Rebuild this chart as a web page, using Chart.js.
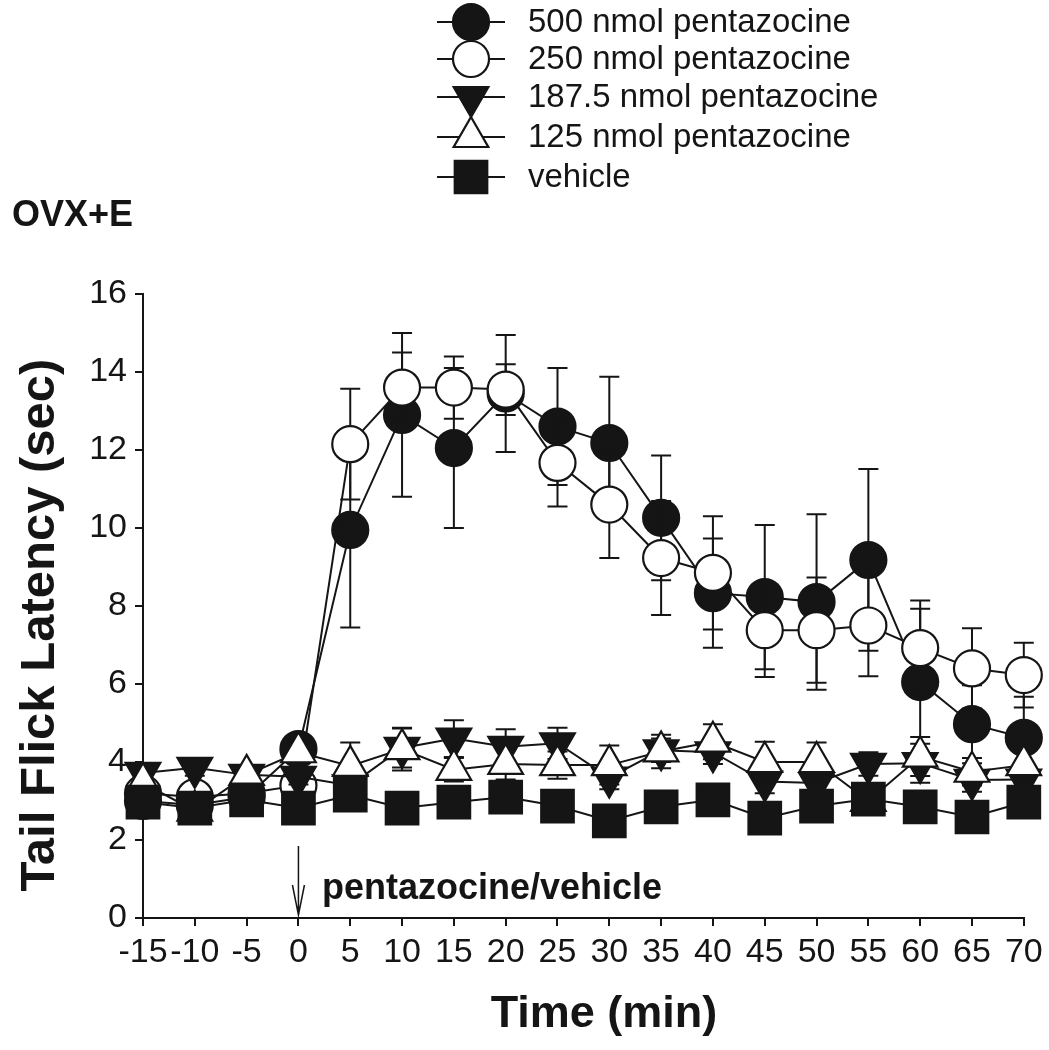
<!DOCTYPE html>
<html>
<head>
<meta charset="utf-8">
<script src="https://cdn.jsdelivr.net/npm/chart.js@4.4.1/dist/chart.umd.min.js"></script>
<style>
  html, body { margin: 0; padding: 0; background: #fff; }
  #wrap { width: 1049px; height: 1050px; position: relative; }
</style>
</head>
<body>
<div id="wrap"><canvas id="c" width="1049" height="1050"></canvas></div>
<script>
// ---- data ----
const times = [-15, -10, -5, 0, 5, 10, 15, 20, 25, 30, 35, 40, 45, 50, 55, 60, 65, 70];

const seriesLabels = ['500 nmol pentazocine', '250 nmol pentazocine', '187.5 nmol pentazocine', '125 nmol pentazocine', 'vehicle'];

const nmol500 = [3.0, 2.9, 3.1, 4.33, 9.95, 12.9, 12.05, 13.45, 12.6, 12.18, 10.26, 8.33, 8.23, 8.1, 9.18, 6.05, 4.97, 4.62];
const nmol500Sem = [0.2, 0.2, 0.2, 0.3, 2.5, 2.1, 2.05, 1.5, 1.5, 1.7, 1.6, 1.4, 1.85, 2.25, 2.33, 1.88, 1.0, 1.05];

const nmol250 = [3.2, 3.1, 3.2, 3.4, 12.15, 13.6, 13.6, 13.55, 11.67, 10.6, 9.23, 8.85, 7.38, 7.38, 7.5, 6.92, 6.4, 6.23];
const nmol250Sem = [0.2, 0.2, 0.2, 0.3, 1.42, 0.9, 0.8, 0.65, 1.12, 1.37, 1.46, 1.45, 1.2, 1.35, 1.3, 1.22, 1.03, 0.83];

const nmol187 = [3.72, 3.85, 3.67, 3.62, 3.4, 4.36, 4.6, 4.39, 4.48, 3.6, 4.3, 4.25, 3.5, 3.46, 3.95, 3.97, 3.54, 3.55];
const nmol187Sem = [0.2, 0.2, 0.2, 0.2, 0.3, 0.5, 0.47, 0.45, 0.4, 0.3, 0.3, 0.3, 0.3, 0.3, 0.3, 0.5, 0.3, 0.3];

const nmol125 = [3.46, 2.75, 3.67, 4.25, 3.9, 4.33, 3.8, 3.95, 3.92, 3.92, 4.27, 4.52, 4.0, 4.0, 3.0, 4.14, 3.75, 3.92];
const nmol125Sem = [0.2, 0.2, 0.2, 0.3, 0.6, 0.55, 0.3, 0.4, 0.35, 0.5, 0.43, 0.45, 0.52, 0.5, 0.2, 0.5, 0.35, 0.35];

const vehicle = [2.97, 2.82, 3.03, 2.82, 3.15, 2.82, 2.97, 3.1, 2.87, 2.49, 2.85, 3.03, 2.56, 2.87, 3.05, 2.85, 2.59, 2.97];
const vehicleSem = [0.15, 0.15, 0.15, 0.15, 0.15, 0.15, 0.15, 0.15, 0.15, 0.15, 0.15, 0.15, 0.15, 0.15, 0.15, 0.15, 0.15, 0.15];

const yTicks = [0, 2, 4, 6, 8, 10, 12, 14, 16];
const xTicks = times;

// ---- styles ----
const INK = '#151515';
const FONT = '"Liberation Sans", Arial, Helvetica, sans-serif';
const styles = {
  '500 nmol pentazocine':   { pointStyle: 'circle',   radius: 18,   rotation: 0,   fill: INK },
  '250 nmol pentazocine':   { pointStyle: 'circle',   radius: 18,   rotation: 0,   fill: '#ffffff' },
  '187.5 nmol pentazocine': { pointStyle: 'triangle', radius: 20,   rotation: 180, fill: INK },
  '125 nmol pentazocine':   { pointStyle: 'triangle', radius: 20,   rotation: 0,   fill: '#ffffff' },
  'vehicle':                { pointStyle: 'rect',     radius: 23,   rotation: 0,   fill: INK }
};

const valueSets = [nmol500, nmol250, nmol187, nmol125, vehicle];
const semSets = [nmol500Sem, nmol250Sem, nmol187Sem, nmol125Sem, vehicleSem];

// draw order: first dataset ends on top, so list in reverse legend order
const drawOrder = [4, 3, 2, 1, 0];
const datasets = drawOrder.map(k => {
  const lab = seriesLabels[k];
  const s = styles[lab];
  return {
    label: lab,
    data: times.map((t, i) => ({ x: t, y: valueSets[k][i] })),
    borderColor: INK,
    borderWidth: 2,
    backgroundColor: s.fill,
    pointStyle: s.pointStyle,
    pointRadius: s.radius,
    pointHoverRadius: s.radius,
    pointRotation: s.rotation,
    pointBorderWidth: 2.2,
    pointBorderColor: INK,
    pointBackgroundColor: s.fill,
    tension: 0,
    clip: false,
    fill: false
  };
});
const semByDataset = drawOrder.map(k => semSets[k]);

const errorBars = {
  id: 'errorBars',
  beforeDatasetDraw(chart, args) {
    const ds = chart.data.datasets[args.index];
    const sem = semByDataset[args.index];
    const ys = chart.scales.y;
    const ctx = chart.ctx;
    ctx.save();
    ctx.strokeStyle = INK;
    ctx.lineWidth = 2;
    args.meta.data.forEach((pt, i) => {
      const v = ds.data[i].y, e = sem[i];
      const yt = ys.getPixelForValue(v + e), yb = ys.getPixelForValue(v - e);
      ctx.beginPath();
      ctx.moveTo(pt.x, yt); ctx.lineTo(pt.x, yb);
      ctx.moveTo(pt.x - 10, yt); ctx.lineTo(pt.x + 10, yt);
      ctx.moveTo(pt.x - 10, yb); ctx.lineTo(pt.x + 10, yb);
      ctx.stroke();
    });
    ctx.restore();
  }
};

const decorations = {
  id: 'decorations',
  afterDraw(chart) {
    const ctx = chart.ctx;
    const xs = chart.scales.x;
    ctx.save();
    // legend
    const rowY = [22, 59, 97, 137, 177];
    seriesLabels.forEach((lab, i) => {
      const s = styles[lab];
      const y = rowY[i];
      ctx.strokeStyle = INK; ctx.lineWidth = 2;
      ctx.beginPath(); ctx.moveTo(437, y); ctx.lineTo(505, y); ctx.stroke();
      ctx.fillStyle = s.fill; ctx.strokeStyle = INK; ctx.lineWidth = 2.2;
      Chart.helpers.drawPoint(ctx, { pointStyle: s.pointStyle, radius: s.radius, rotation: s.rotation, borderWidth: 2.2 }, 471, y);
      ctx.fillStyle = INK;
      ctx.font = '33px ' + FONT;
      ctx.textAlign = 'left'; ctx.textBaseline = 'middle';
      ctx.fillText(lab, 528, y + 1);
    });
    // panel label
    ctx.fillStyle = INK;
    ctx.font = 'bold 36px ' + FONT;
    ctx.textAlign = 'left'; ctx.textBaseline = 'middle';
    ctx.fillText('OVX+E', 12, 216);
    // arrow at time 0
    const ax = xs.getPixelForValue(0);
    ctx.strokeStyle = INK; ctx.lineWidth = 1.5;
    ctx.beginPath();
    ctx.moveTo(ax, 846); ctx.lineTo(ax, 915);
    ctx.moveTo(ax - 6, 885); ctx.lineTo(ax, 915); ctx.lineTo(ax + 6, 885);
    ctx.stroke();
    ctx.font = 'bold 36px ' + FONT;
    ctx.fillText('pentazocine/vehicle', 322, 889);
    // axis titles
    ctx.font = 'bold 45px ' + FONT;
    ctx.textAlign = 'center';
    ctx.fillText('Time (min)', 604, 1015);
    ctx.save();
    ctx.translate(40, 625);
    ctx.rotate(-Math.PI / 2);
    ctx.font = 'bold 49px ' + FONT;
    ctx.fillText('Tail Flick Latency (sec)', 0, 0);
    ctx.restore();
    ctx.restore();
  }
};

new Chart(document.getElementById('c'), {
  type: 'line',
  data: { datasets },
  options: {
    responsive: false,
    animation: false,
    events: [],
    layout: { padding: { top: 294, right: 21, bottom: 0, left: 0 } },
    plugins: { legend: { display: false }, tooltip: { enabled: false } },
    scales: {
      x: {
        type: 'linear',
        min: -15, max: 70,
        afterBuildTicks(scale) { scale.ticks = xTicks.map(v => ({ value: v })); },
        afterFit(scale) { scale.height = 132; },
        ticks: { color: INK, font: { family: FONT, size: 34 }, padding: 6, maxRotation: 0, autoSkip: false },
        grid: { drawOnChartArea: false, drawTicks: true, tickLength: 8, color: INK, lineWidth: 2 },
        border: { display: true, color: INK, width: 2 }
      },
      y: {
        type: 'linear',
        min: 0, max: 16,
        afterBuildTicks(scale) { scale.ticks = yTicks.map(v => ({ value: v })); },
        afterFit(scale) { scale.width = 143; },
        ticks: { color: INK, font: { family: FONT, size: 34 }, padding: 8 },
        grid: { drawOnChartArea: false, drawTicks: true, tickLength: 8, color: INK, lineWidth: 2 },
        border: { display: true, color: INK, width: 2 }
      }
    }
  },
  plugins: [errorBars, decorations]
});
</script>
</body>
</html>
